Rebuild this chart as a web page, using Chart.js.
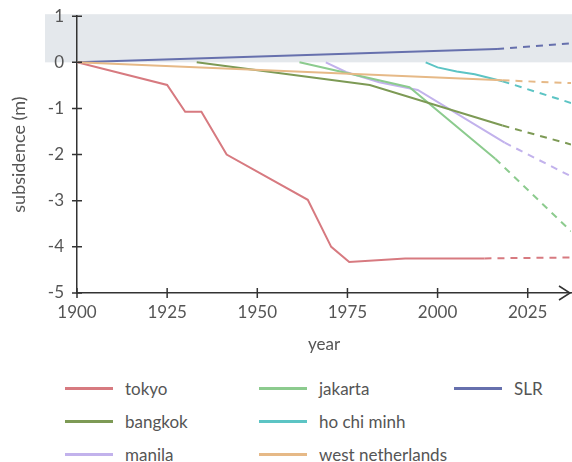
<!DOCTYPE html>
<html>
<head>
<meta charset="utf-8">
<script src="https://cdn.jsdelivr.net/npm/chart.js@4.4.1/dist/chart.umd.min.js"></script>
<style>
  body { margin: 0; background: #fff; font-family: Lato, sans-serif; }
  #wrap { position: relative; width: 572px; height: 462px; overflow: hidden; }
  #chart-box { position: absolute; left: 0; top: -7px; width: 572px; height: 372px; }
  .legend-item { position: absolute; height: 22px; display: flex; align-items: center; font-size: 17px; color: #555; white-space: nowrap; }
  .legend-item .swatch { display: inline-block; width: 48px; height: 3px; margin-right: 12px; }
</style>
</head>
<body>
<div id="wrap">
  <div id="chart-box"><canvas id="chart"></canvas></div>
  <div id="legend"></div>
</div>
<script>
// measured values (year, metres) - solid part is observed, dashed part is projection
const tokyoYears = [1900, 1925, 1930, 1934.5, 1941.5, 1964, 1970.5, 1975.5, 1991, 2013];
const tokyoValues = [0, -0.49, -1.07, -1.07, -2.0, -2.98, -4.0, -4.33, -4.25, -4.25];
const tokyoProjYears = [2013, 2037];
const tokyoProjValues = [-4.25, -4.23];

const jakartaYears = [1961.7, 1992.2, 2016];
const jakartaValues = [0, -0.54, -2.09];
const jakartaProjYears = [2016, 2037];
const jakartaProjValues = [-2.09, -3.66];

const slrYears = [1900, 2016.5];
const slrValues = [0, 0.29];
const slrProjYears = [2016.5, 2037];
const slrProjValues = [0.29, 0.41];

const bangkokYears = [1933.2, 1981.2, 2018];
const bangkokValues = [0, -0.49, -1.37];
const bangkokProjYears = [2018, 2037];
const bangkokProjValues = [-1.37, -1.78];

const hcmYears = [1996.7, 2000, 2005.3, 2010.3, 2018];
const hcmValues = [0, -0.11, -0.2, -0.26, -0.41];
const hcmProjYears = [2018, 2037];
const hcmProjValues = [-0.41, -0.88];

const manilaYears = [1969, 1974.6, 1983.8, 1994.5, 2018.6];
const manilaValues = [0, -0.21, -0.43, -0.6, -1.74];
const manilaProjYears = [2018.6, 2037];
const manilaProjValues = [-1.74, -2.47];

const nlYears = [1900, 2018];
const nlValues = [0, -0.39];
const nlProjYears = [2018, 2037];
const nlProjValues = [-0.39, -0.45];

const xTicks = [1900, 1925, 1950, 1975, 2000, 2025];
const yTicks = [1, 0, -1, -2, -3, -4, -5];

const series = [
    { name: "west netherlands", color: "#e6b987", years: nlYears, values: nlValues, projYears: nlProjYears, projValues: nlProjValues },
    { name: "SLR", color: "#6670ad", years: slrYears, values: slrValues, projYears: slrProjYears, projValues: slrProjValues },
    { name: "tokyo", color: "#d77a80", years: tokyoYears, values: tokyoValues, projYears: tokyoProjYears, projValues: tokyoProjValues },
    { name: "bangkok", color: "#7d9a55", years: bangkokYears, values: bangkokValues, projYears: bangkokProjYears, projValues: bangkokProjValues },
    { name: "jakarta", color: "#8ccb8e", years: jakartaYears, values: jakartaValues, projYears: jakartaProjYears, projValues: jakartaProjValues },
    { name: "manila", color: "#c2b2ec", years: manilaYears, values: manilaValues, projYears: manilaProjYears, projValues: manilaProjValues },
    { name: "ho chi minh", color: "#5cc4c4", years: hcmYears, values: hcmValues, projYears: hcmProjYears, projValues: hcmProjValues }
];

// legend grid, column by column
const legendColumns = [
    ["tokyo", "bangkok", "manila"],
    ["jakarta", "ho chi minh", "west netherlands"],
    ["SLR"]
];

function toPoints(xs, ys) {
    return xs.map((x, i) => ({ x: x, y: ys[i] }));
}

const datasets = [];
series.forEach(s => {
    datasets.push({
        label: s.name,
        data: toPoints(s.years, s.values),
        borderColor: s.color,
        borderWidth: 2,
        pointRadius: 0,
        tension: 0
    });
    datasets.push({
        label: s.name + " projection",
        data: toPoints(s.projYears, s.projValues),
        borderColor: s.color,
        borderWidth: 2,
        borderDash: [7, 6],
        pointRadius: 0,
        tension: 0
    });
});

// grey band between 0 and 1 m, reaching left under the tick labels
const bandPlugin = {
    id: "band",
    beforeDraw(chart) {
        const ctx = chart.ctx;
        const y = chart.scales.y;
        const top = y.getPixelForValue(1) - 2;
        const bottom = y.getPixelForValue(0);
        ctx.save();
        ctx.fillStyle = "#e4e8ec";
        ctx.fillRect(45, top, chart.width - 45, bottom - top);
        ctx.restore();
    }
};

// ticks crossing the axes, and the arrow at the end of the x axis
const axisPlugin = {
    id: "axisMarks",
    afterDraw(chart) {
        const ctx = chart.ctx;
        const xs = chart.scales.x;
        const ys = chart.scales.y;
        const area = chart.chartArea;
        ctx.save();
        ctx.strokeStyle = "#333";
        ctx.lineWidth = 1.5;
        ctx.beginPath();
        xTicks.forEach(t => {
            const px = xs.getPixelForValue(t);
            ctx.moveTo(px, area.bottom - 5);
            ctx.lineTo(px, area.bottom + 5);
        });
        yTicks.forEach(t => {
            const py = ys.getPixelForValue(t);
            ctx.moveTo(area.left - 5, py);
            ctx.lineTo(area.left + 5, py);
        });
        ctx.moveTo(area.right - 12, area.bottom - 7);
        ctx.lineTo(area.right - 1, area.bottom);
        ctx.lineTo(area.right - 12, area.bottom + 7);
        ctx.stroke();
        ctx.restore();
    }
};

const tickFont = { family: "Lato", size: 17 };

new Chart(document.getElementById("chart"), {
    type: "line",
    data: { datasets: datasets },
    plugins: [bandPlugin, axisPlugin],
    options: {
        responsive: true,
        maintainAspectRatio: false,
        animation: false,
        layout: { padding: { top: 8, right: 1, left: 0, bottom: 0 } },
        scales: {
            x: {
                type: "linear",
                min: 1900,
                max: 2037,
                afterBuildTicks(scale) {
                    scale.ticks = xTicks.map(v => ({ value: v }));
                },
                afterFit(scale) { scale.height = 72; },
                grid: { display: false, drawTicks: false },
                border: { display: true, color: "#333", width: 1.5 },
                ticks: { color: "#555", font: tickFont, padding: 9, maxRotation: 0, callback: v => String(v) },
                title: { display: true, text: "year", color: "#555", font: tickFont, padding: { top: 4, bottom: 10 } }
            },
            y: {
                min: -5,
                max: 1,
                afterBuildTicks(scale) {
                    scale.ticks = yTicks.map(v => ({ value: v }));
                },
                afterFit(scale) { scale.width = 77; },
                grid: { display: false, drawTicks: false },
                border: { display: true, color: "#333", width: 1.5 },
                ticks: { color: "#555", font: tickFont, padding: 13 },
                title: { display: true, text: "subsidence (m)", color: "#555", font: { family: "Lato", size: 18 }, padding: { top: 8, bottom: 4 } }
            }
        },
        plugins: {
            legend: { display: false },
            tooltip: { enabled: false }
        }
    }
});

// html legend in three columns
const legendBox = document.getElementById("legend");
const colLeft = [65, 259, 454];
const rowCenter = [388, 421, 454];
legendColumns.forEach((col, ci) => {
    col.forEach((name, ri) => {
        const s = series.find(d => d.name === name);
        const item = document.createElement("div");
        item.className = "legend-item";
        item.style.left = colLeft[ci] + "px";
        item.style.top = (rowCenter[ri] - 11) + "px";
        item.innerHTML = `<span class="swatch" style="background:${s.color}"></span>${s.name}`;
        legendBox.appendChild(item);
    });
});
</script>
</body>
</html>
